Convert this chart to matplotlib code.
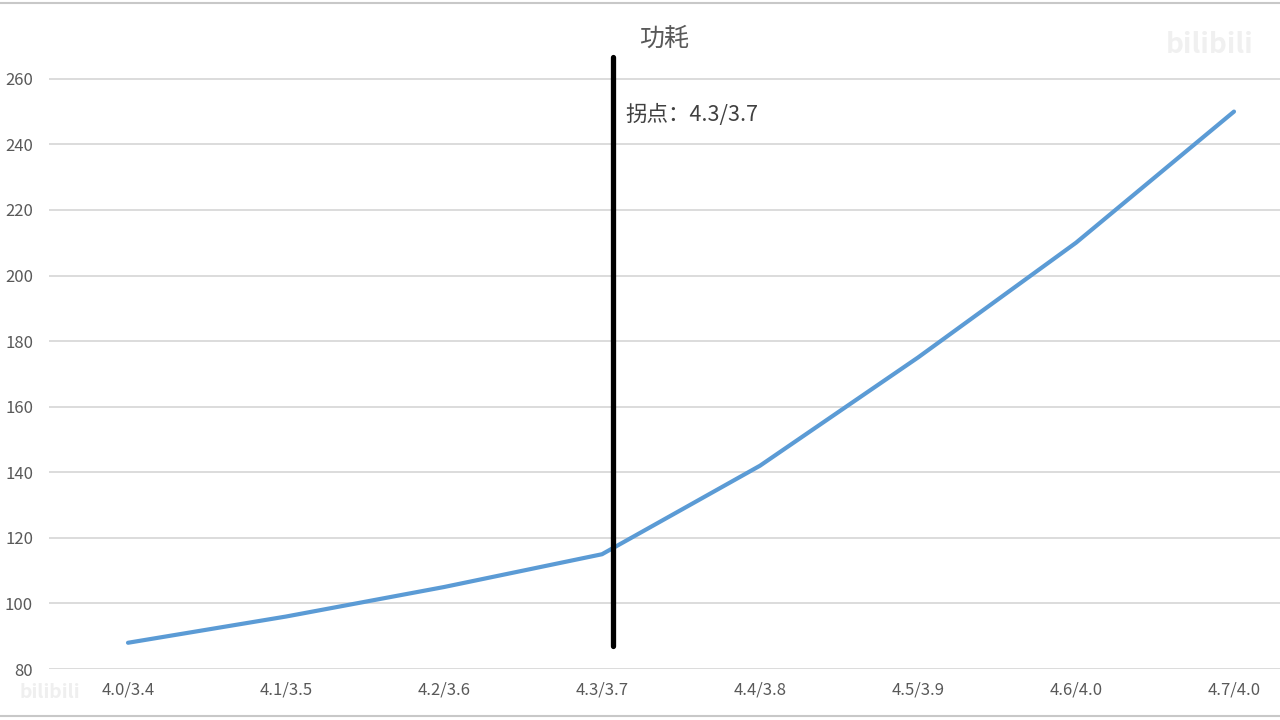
import matplotlib.pyplot as plt
from matplotlib.lines import Line2D

plt.rcParams['font.family'] = ['Noto Sans CJK SC', 'DejaVu Sans']

# data
categories = ["4.0/3.4", "4.1/3.5", "4.2/3.6", "4.3/3.7",
              "4.4/3.8", "4.5/3.9", "4.6/4.0", "4.7/4.0"]
power = [88, 96, 105, 115, 142, 175, 210, 250]
y_ticks = [80, 100, 120, 140, 160, 180, 200, 220, 240, 260]
marker_x = 3.07
marker_y = (87, 266.5)
title = "功耗"
note = "拐点：4.3/3.7"

fig = plt.figure(figsize=(12.8, 7.2), dpi=100)
# plot area: left at x=49px, runs off the right edge like the screenshot
ax = fig.add_axes([49 / 1280, (720 - 669) / 720, 1 - 49 / 1280, (669 - 46) / 720])

x = range(len(categories))
ax.plot(x, power, color="#5B9BD5", lw=3.0, solid_capstyle="round",
        solid_joinstyle="round", zorder=3)
ax.plot([marker_x, marker_x], marker_y, color="black", lw=3.8,
        solid_capstyle="round", clip_on=False, zorder=4)

ax.set_xlim(-0.5, (1280 - 49) / 158 - 0.5)
ax.set_ylim(80, 270)
ax.set_xticks(list(x))
ax.set_xticklabels(categories)
ax.set_yticks(y_ticks)
ax.grid(axis="y", color="#D9D9D9", lw=1.3)
ax.set_axisbelow(True)
for s in ax.spines.values():
    s.set_visible(False)
ax.tick_params(length=0, labelsize=12, colors="#595959")
ax.tick_params(axis="x", pad=9)
ax.tick_params(axis="y", pad=11.5)

fig.text(664 / 1280, 1 - 39 / 720, title, ha="center", va="center",
         fontsize=18, color="#595959")
ax.text(marker_x + 0.075, 249, note, ha="left", va="center",
        fontsize=15.5, color="#404040")

# faint watermarks
fig.text(1210 / 1280, 1 - 45 / 720, "bilibili", ha="center", va="center",
         fontsize=20, fontweight="bold", color="#F0F0F0")
fig.text(50 / 1280, 1 - 693 / 720, "bilibili", ha="center", va="center",
         fontsize=14, fontweight="bold", color="#EFEFEF")

# screen border lines at top and bottom
fig.add_artist(Line2D([0, 1], [1 - 3 / 720, 1 - 3 / 720], color="#C8C8C8",
                      lw=1.5, transform=fig.transFigure))
fig.add_artist(Line2D([0, 1], [1 - 716 / 720, 1 - 716 / 720], color="#C8C8C8",
                      lw=1.5, transform=fig.transFigure))

fig.savefig("out.png", dpi=100)
